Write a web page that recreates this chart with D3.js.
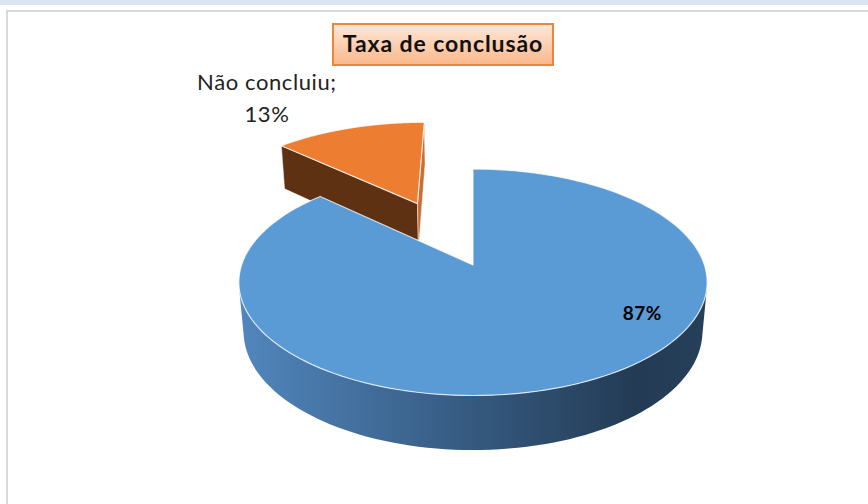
<!DOCTYPE html>
<html>
<head>
<meta charset="utf-8">
<script src="https://cdn.jsdelivr.net/npm/d3@7"></script>
<style>
  body { margin: 0; background: #fff; }
  svg { display: block; }
</style>
</head>
<body>
<svg id="chart" width="868" height="504"></svg>
<script>
const categories = ["Concluiu", "Não concluiu"];
const values = [87, 13];
const chartTitle = "Taxa de conclusão";

// how far each slice is pulled out (in pie radii)
const explode = [0, 0.66];
// where each data label sits: angle (deg, clockwise from 12h) and radius from slice centre
const labelAt = [{ angle: 121, r: 0.8 }, { angle: 327, r: 1.65 }];

const topColors = ["#5b9bd5", "#ed7d31"];
const cutColors = ["#2f4f6f", "#5e3113"];
const endColors = ["#3d6690", "#c96f33"];

const svg = d3.select("#chart");
const width = +svg.attr("width");
const height = +svg.attr("height");

// frame of the sheet
svg.append("rect").attr("x", 0).attr("y", 0).attr("width", width).attr("height", 5).attr("fill", "#dbe5f1");
svg.append("line").attr("x1", 6).attr("x2", width).attr("y1", 11).attr("y2", 11)
  .attr("stroke", "#d9d9d9").attr("stroke-width", 2);
svg.append("line").attr("x1", 7).attr("x2", 7).attr("y1", 10).attr("y2", height)
  .attr("stroke", "#d9d9d9").attr("stroke-width", 2);

// simple perspective camera looking down on the pie
const cam = { cx: 473, cy: 265, f: 1333, dist: 5.76, tilt: Math.asin(0.478), thick: 0.246 };
const sinT = Math.sin(cam.tilt), cosT = Math.cos(cam.tilt);
const camPos = [0, cam.dist * sinT, -cam.dist * cosT];

function project(X, Y, Z) {
  const vy = Y - camPos[1], vz = Z - camPos[2];
  const depth = -vy * sinT + vz * cosT;
  const ys = vy * cosT + vz * sinT;
  return [cam.cx + cam.f * X / depth, cam.cy - cam.f * ys / depth];
}

const defs = svg.append("defs");
const wallGrad = defs.append("linearGradient").attr("id", "wall0")
  .attr("gradientUnits", "userSpaceOnUse").attr("x1", 240).attr("x2", 708).attr("y1", 0).attr("y2", 0);
[[0, "#5186bd"], [0.5, "#35597f"], [0.85, "#233b54"], [1, "#274059"]].forEach(([o, c]) =>
  wallGrad.append("stop").attr("offset", o).attr("stop-color", c));
const wallGrad1 = defs.append("linearGradient").attr("id", "wall1")
  .attr("gradientUnits", "userSpaceOnUse").attr("x1", 240).attr("x2", 708).attr("y1", 0).attr("y2", 0);
[[0, "#9c4f1c"], [1, "#5e3113"]].forEach(([o, c]) =>
  wallGrad1.append("stop").attr("offset", o).attr("stop-color", c));

const titleGrad = defs.append("linearGradient").attr("id", "titleFill")
  .attr("x1", 0).attr("x2", 0).attr("y1", 0).attr("y2", 1);
[[0, "#fee8da"], [1, "#fab78a"]].forEach(([o, c]) =>
  titleGrad.append("stop").attr("offset", o).attr("stop-color", c));

const pie = d3.pie().sort(null).value(d => d);
const arcs = pie(values).map((d, i) => {
  const mid = (d.startAngle + d.endAngle) / 2;
  return { ...d, i, ox: explode[i] * Math.sin(mid), oz: explode[i] * Math.cos(mid) };
});

const line = d3.line();
const steps = 160;

function rim(s, a, Y) {
  return project(s.ox + Math.sin(a), Y, s.oz + Math.cos(a));
}

function facing(P, n) {
  return (camPos[0] - P[0]) * n[0] + (camPos[1] - P[1]) * n[1] + (camPos[2] - P[2]) * n[2] > 1e-3;
}

// back slices first
const order = arcs.slice().sort((a, b) => b.oz - a.oz);

const pieG = svg.append("g");
order.forEach(s => {
  const g = pieG.append("g").attr("class", "slice");
  const h = -cam.thick;
  const angles = d3.range(steps + 1).map(k => s.startAngle + (s.endAngle - s.startAngle) * k / steps);

  // cut faces
  [[s.startAngle, -1], [s.endAngle, 1]].forEach(([a, sign]) => {
    const n = [sign * Math.cos(a), 0, -sign * Math.sin(a)];
    const P = [s.ox + 0.5 * Math.sin(a), h / 2, s.oz + 0.5 * Math.cos(a)];
    if (!facing(P, n)) return;
    const pts = [project(s.ox, 0, s.oz), rim(s, a, 0), rim(s, a, h), project(s.ox, h, s.oz)];
    g.append("path").attr("d", line(pts) + "Z")
      .attr("fill", sign < 0 ? cutColors[s.i] : endColors[s.i])
      .attr("stroke", "#ffffff").attr("stroke-opacity", 0.6).attr("stroke-width", 0.8);
  });

  // outer wall, only the part turned to the camera
  let run = [];
  const runs = [];
  angles.forEach(a => {
    const P = [s.ox + Math.sin(a), h / 2, s.oz + Math.cos(a)];
    if (facing(P, [Math.sin(a), 0, Math.cos(a)])) run.push(a);
    else if (run.length) { runs.push(run); run = []; }
  });
  if (run.length) runs.push(run);
  runs.forEach(r => {
    const pts = r.map(a => rim(s, a, 0)).concat(r.slice().reverse().map(a => rim(s, a, h)));
    g.append("path").attr("d", line(pts) + "Z").attr("fill", `url(#wall${s.i})`);
  });

  // top face
  const top = [project(s.ox, 0, s.oz)].concat(angles.map(a => rim(s, a, 0)));
  g.append("path").attr("d", line(top) + "Z")
    .attr("fill", topColors[s.i])
    .attr("stroke", "#ffffff").attr("stroke-opacity", 0.75).attr("stroke-width", 1.2)
    .attr("stroke-linejoin", "round");
});

// data labels
const fmt = d3.format(".0%");
const total = d3.sum(values);
arcs.forEach(s => {
  const la = labelAt[s.i];
  const a = la.angle * Math.PI / 180;
  const [x, y] = project(s.ox + la.r * Math.sin(a), 0, s.oz + la.r * Math.cos(a));
  const pct = fmt(s.value / total);
  if (s.i === 0) {
    svg.append("text").attr("x", x).attr("y", y + 6)
      .attr("text-anchor", "middle")
      .style("font-family", "Lato, 'Open Sans', sans-serif")
      .style("font-weight", "bold").style("font-size", "19px").style("letter-spacing", "0.5px")
      .style("fill", "#000")
      .text(pct);
  } else {
    const t = svg.append("text").attr("x", x).attr("y", y - 6)
      .attr("text-anchor", "middle")
      .style("font-family", "Lato, 'Open Sans', sans-serif")
      .style("font-size", "22px").style("letter-spacing", "0.6px").style("fill", "#222");
    t.append("tspan").attr("x", x).text(categories[s.i] + ";");
    t.append("tspan").attr("x", x).attr("dy", 32).text(pct);
  }
});

// title box
svg.append("rect").attr("x", 333).attr("y", 24).attr("width", 220).attr("height", 41)
  .attr("fill", "url(#titleFill)").attr("stroke", "#f0853a").attr("stroke-width", 2);
svg.append("text").attr("x", 443).attr("y", 52).attr("text-anchor", "middle")
  .style("font-family", "Lato, 'Open Sans', sans-serif")
  .style("font-weight", "bold").style("font-size", "23px").style("letter-spacing", "0.9px")
  .style("fill", "#111")
  .text(chartTitle);
</script>
</body>
</html>
